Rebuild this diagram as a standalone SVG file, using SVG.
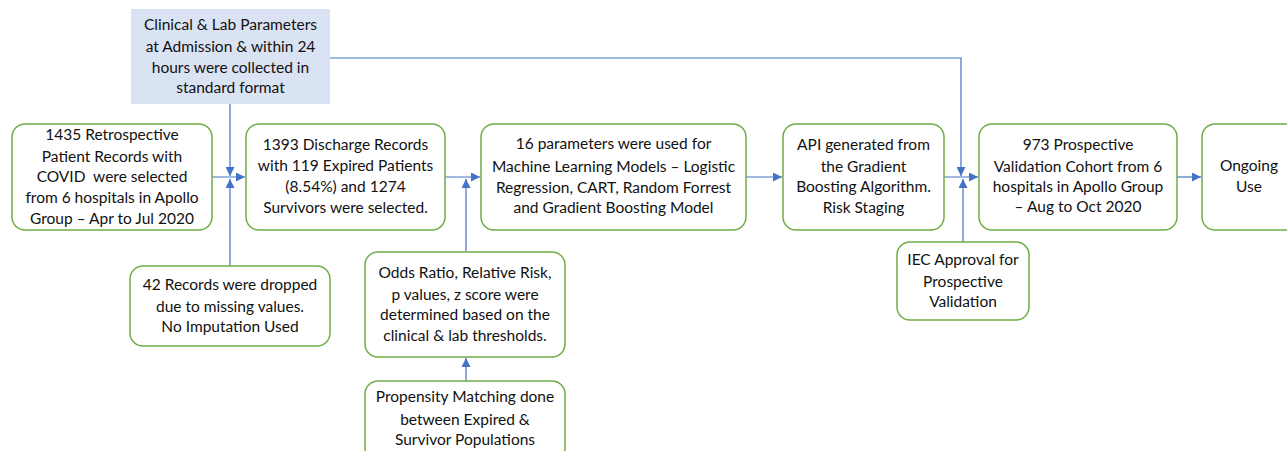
<svg xmlns="http://www.w3.org/2000/svg" width="1287" height="451" viewBox="0 0 1287 451">
<style>
.n{fill:#fff;stroke:#70ad47;stroke-width:1.5}
.b{fill:#dae3f3;stroke:none}
text{font-family:Lato,"Open Sans","Liberation Sans",sans-serif;font-size:15.5px;fill:#111;text-anchor:middle}
.c{fill:none;stroke:#4472c4;stroke-width:1.2}
</style>
<defs>
<marker id="a" viewBox="0 0 10 10" refX="10" refY="5" markerWidth="9" markerHeight="9" markerUnits="userSpaceOnUse" orient="auto">
<path d="M0,0L10,5L0,10z" fill="#4472c4"/>
</marker>
</defs>
<g id="connectors">
<path class="c" d="M212,177H245" marker-end="url(#a)"/>
<path class="c" d="M230,104V176" marker-end="url(#a)"/>
<path class="c" d="M230,266V179" marker-end="url(#a)"/>
<path class="c" d="M445,177H480" marker-end="url(#a)"/>
<path class="c" d="M466,252V179" marker-end="url(#a)"/>
<path class="c" d="M746,177H782" marker-end="url(#a)"/>
<path class="c" d="M944,177H978" marker-end="url(#a)"/>
<path class="c" d="M330,58H961V176" marker-end="url(#a)"/>
<path class="c" d="M963,242V179" marker-end="url(#a)"/>
<path class="c" d="M1177,177H1201" marker-end="url(#a)"/>
<path class="c" d="M466,381V358" marker-end="url(#a)"/>
</g>
<g id="clinical">
<rect class="b" x="131" y="9" width="199" height="95"/>
<text x="230.5" y="30">Clinical &amp; Lab Parameters</text>
<text x="230.5" y="52">at Admission &amp; within 24</text>
<text x="230.5" y="73">hours were collected in</text>
<text x="230.5" y="93">standard format</text>
</g>
<g id="retro">
<rect class="n" x="12" y="124" width="200" height="106" rx="13"/>
<text x="112" y="140">1435 Retrospective</text>
<text x="112" y="162">Patient Records with</text>
<text x="112" y="182" xml:space="preserve">COVID  were selected</text>
<text x="112" y="203">from 6 hospitals in Apollo</text>
<text x="112" y="224">Group – Apr to Jul 2020</text>
</g>
<g id="discharge">
<rect class="n" x="246" y="124" width="199" height="106" rx="13"/>
<text x="345.5" y="150">1393 Discharge Records</text>
<text x="345.5" y="171">with 119 Expired Patients</text>
<text x="345.5" y="192">(8.54%) and 1274</text>
<text x="345.5" y="213">Survivors were selected.</text>
</g>
<g id="ml">
<rect class="n" x="481" y="124" width="265" height="106" rx="13"/>
<text x="613.5" y="149">16 parameters were used for</text>
<text x="613.5" y="172">Machine Learning Models – Logistic</text>
<text x="613.5" y="193">Regression, CART, Random Forrest</text>
<text x="613.5" y="213">and Gradient Boosting Model</text>
</g>
<g id="api">
<rect class="n" x="783" y="124" width="161" height="106" rx="13"/>
<text x="863.5" y="150">API generated from</text>
<text x="863.5" y="172">the Gradient</text>
<text x="863.5" y="192">Boosting Algorithm.</text>
<text x="863.5" y="213">Risk Staging</text>
</g>
<g id="prospective">
<rect class="n" x="979" y="124" width="198" height="106" rx="13"/>
<text x="1078" y="150">973 Prospective</text>
<text x="1078" y="172">Validation Cohort from 6</text>
<text x="1078" y="192">hospitals in Apollo Group</text>
<text x="1078" y="212">– Aug to Oct 2020</text>
</g>
<g id="ongoing">
<rect class="n" x="1202" y="124" width="100" height="106" rx="13"/>
<text x="1249" y="171">Ongoing</text>
<text x="1249" y="192">Use</text>
</g>
<g id="dropped">
<rect class="n" x="130" y="266" width="200" height="80" rx="13"/>
<text x="230" y="290">42 Records were dropped</text>
<text x="230" y="312">due to missing values.</text>
<text x="230" y="332">No Imputation Used</text>
</g>
<g id="odds">
<rect class="n" x="365" y="252" width="200" height="105" rx="13"/>
<text x="465" y="278">Odds Ratio, Relative Risk,</text>
<text x="465" y="300">p values, z score were</text>
<text x="465" y="320">determined based on the</text>
<text x="465" y="341">clinical &amp; lab thresholds.</text>
</g>
<g id="propensity">
<rect class="n" x="365" y="381" width="200" height="80" rx="13"/>
<text x="465" y="402">Propensity Matching done</text>
<text x="465" y="425">between Expired &amp;</text>
<text x="465" y="445">Survivor Populations</text>
</g>
<g id="iec">
<rect class="n" x="897" y="242" width="132" height="78" rx="13"/>
<text x="963" y="265">IEC Approval for</text>
<text x="963" y="287">Prospective</text>
<text x="963" y="307">Validation</text>
</g>
</svg>
